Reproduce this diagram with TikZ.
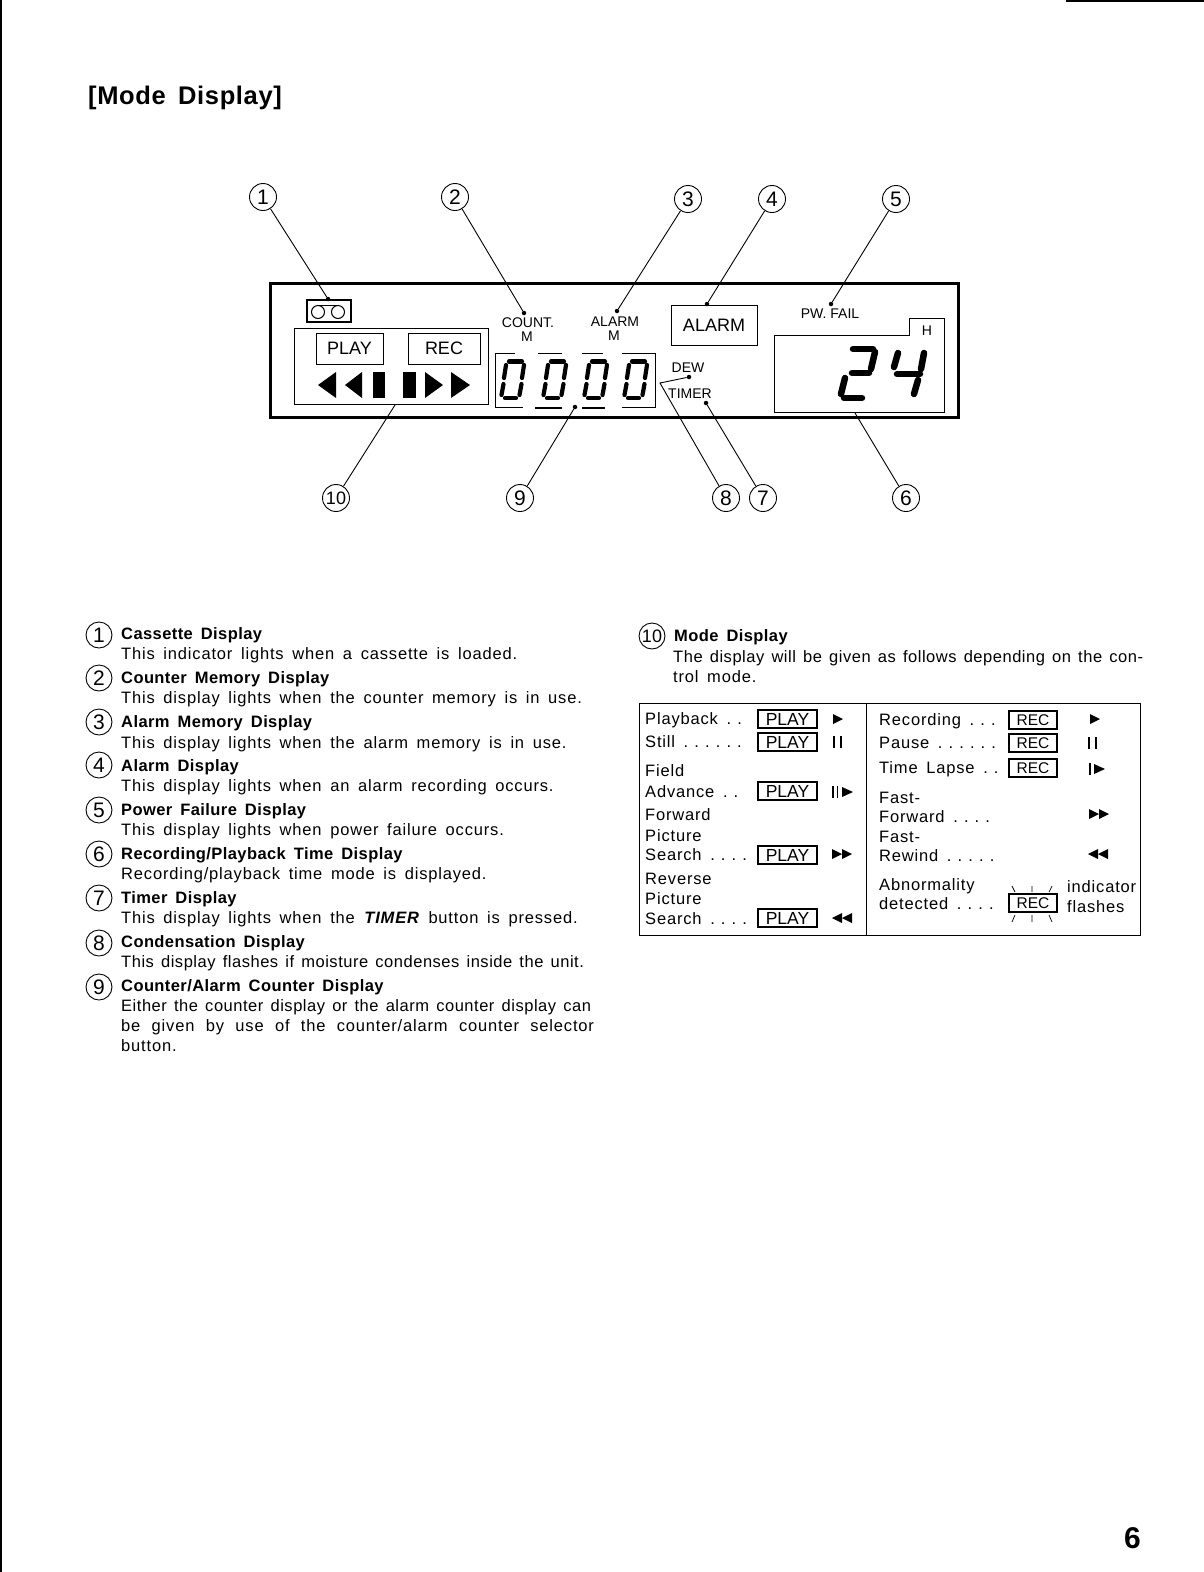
\documentclass[tikz,border=0pt]{standalone}
\usepackage{fontspec}
\setmainfont[LetterSpace=5,WordSpace=1.6]{Liberation Sans}
\newfontfamily\numf{Liberation Sans}
\newfontfamily\headf[LetterSpace=2.5,WordSpace=1.6]{Liberation Sans}
\newfontfamily\tightf[LetterSpace=3.2,WordSpace=1.4]{Liberation Sans}
\newfontfamily\widef[LetterSpace=5,WordSpace=2.1]{Liberation Sans}
\newfontfamily\dotf[LetterSpace=0,WordSpace=1]{Liberation Sans}
\newcounter{tc}
\newcommand{\dd}[1]{{\dotf #1}}
\tikzset{
 lab/.style={inner sep=0pt,anchor=base west,font=\fontsize{16.5}{18}\selectfont,text=black},
 labb/.style={lab,font=\headf\fontsize{16.5}{18}\selectfont\bfseries},
 tab/.style={lab},
 cnum/.style={circle,draw=black,line width=0.9pt,minimum size=27pt,inner sep=0pt,font=\numf\fontsize{21}{22}\selectfont},
 lnum/.style={cnum,minimum size=26pt},
 dot/.style={circle,fill=black,minimum size=4.5pt,inner sep=0pt},
 lead/.style={line width=0.9pt,draw=black},
 panelbox/.style={draw=black,line width=1pt},
 pan/.style={inner sep=0pt,font=\numf\fontsize{14}{16}\selectfont},
 panb/.style={inner sep=0pt,font=\numf\fontsize{18}{20}\selectfont},
 seg/.style={line width=6.5pt,line cap=round,draw=black},
 zseg/.style={line width=4.2pt,line cap=round,draw=black},
 tbox/.style={draw=black,line width=1.1pt,inner sep=0pt,font=\numf\fontsize{17.5}{18}\selectfont},
 rbox/.style={tbox,font=\numf\fontsize{15.5}{18}\selectfont},
}
\newcommand{\lbl}[4][lab]{\stepcounter{tc}\node[#1] (t\arabic{tc}) at (#2,#3+5) {#4};}
\newcommand{\rtri}[4]{\fill (#1,#2-#3) -- (#1+#4,#2) -- (#1,#2+#3) -- cycle;}
\newcommand{\ltri}[4]{\fill (#1,#2-#3) -- (#1-#4,#2) -- (#1,#2+#3) -- cycle;}
\newcommand{\vbar}[2]{\fill (#1,#2-6) rectangle (#1+1.8,#2+6);}
\newcommand{\zeroglyph}[1]{%
 \draw[zseg] (#1+10,361.5) -- (#1+23,361.5);
 \draw[zseg] (#1+6,398) -- (#1+17,398);
 \draw[zseg] (#1+7,365) -- (#1+5,378);
 \draw[zseg] (#1+4.5,384) -- (#1+2.5,395);
 \draw[zseg] (#1+25,365) -- (#1+23,378);
 \draw[zseg] (#1+22.5,384) -- (#1+20.5,395);}
\newcommand{\playb}[2]{\stepcounter{tc}\node[tbox,minimum width=59pt,minimum height=18pt] (t\arabic{tc}) at (787.5,#1) {#2};}
\newcommand{\recb}[2]{\stepcounter{tc}\node[rbox,minimum width=48pt,minimum height=18pt] (t\arabic{tc}) at (1033,#1) {#2};}
\begin{document}
\begin{tikzpicture}[x=1pt,y=-1pt]
\useasboundingbox (0,0) rectangle (1204,1572);
\fill[white] (0,0) rectangle (1204,1572);
% page edge marks
\fill (0,0) rectangle (1.5,1572);
\fill (1066,0) rectangle (1204,1.5);
% title and folio
\node[inner sep=0pt,anchor=base west,font=\headf\fontsize{25.5}{28}\selectfont\bfseries] (title) at (88,104) {[Mode Display]};
\node[inner sep=0pt,anchor=base west,font=\numf\fontsize{30}{32}\selectfont\bfseries] (folio) at (1124,1548) {6};
% panel
\draw[line width=3pt] (270,283) rectangle (958,417);
% cassette
\draw[line width=2pt] (307,300) rectangle (351,322);
\draw[line width=1pt] (318,312) circle (6.5) (338,312) circle (6.5);
\draw[line width=1pt] (318,305.5) -- (338,305.5);
% mode box
\draw[panelbox] (294,328) rectangle (488,404);
\node[panelbox,panb,minimum width=67pt,minimum height=31pt] (playpan) at (349.5,348.5) {PLAY};
\node[panelbox,panb,minimum width=72pt,minimum height=31pt] (recpan) at (444,348.5) {REC};
\ltri{336}{385}{13}{18}\ltri{362}{385}{13}{17}
\fill (373,372) rectangle (385,398);
\fill (403,372) rectangle (416,398);
\rtri{425}{385}{13}{18}\rtri{451}{385}{13}{19}
% labels in panel
\node[pan] (count) at (528,323) {COUNT.};
\node[pan] (countm) at (527,337) {M};
\node[pan] (alarmt) at (615,322) {ALARM};
\node[pan] (alarmm) at (614,336) {M};
\node[panelbox,panb,minimum width=86pt,minimum height=40pt] (alarmb) at (714,325) {ALARM};
\node[pan] (pw) at (830,314) {PW. FAIL};
\node[pan] (dew) at (688,368) {DEW};
\node[pan] (timer) at (690,394) {TIMER};
\node[pan] (h) at (927,331) {H};
% counter
\draw[line width=1pt] (515,353) -- (495,353) -- (495,407) -- (523,407);
\draw[line width=1pt] (538,353) -- (562,353) (582,353) -- (603,353) (622,353) -- (655,353) -- (655,407) -- (622,407);
\draw[line width=1.5pt] (535,408) -- (562,408) (582,408) -- (605,408);
\zeroglyph{499}\zeroglyph{541}\zeroglyph{582}\zeroglyph{622}
% time box
\draw[panelbox] (774,335) -- (909,335) -- (909,318) -- (944,318) -- (944,412) -- (774,412) -- cycle;
\draw[seg] (853,349) -- (873,349);
\draw[seg] (875,352) -- (871,369);
\draw[seg] (852,373) -- (869,373);
\draw[seg] (845,378) -- (841,394);
\draw[seg] (844,398) -- (862,398);
\draw[seg] (898,353) -- (894,367);
\draw[seg] (897,374) -- (920,374);
\draw[seg] (924,353) -- (921,369);
\draw[seg] (918,380) -- (914,394);
% callouts
\node[cnum] (c1) at (263,197) {1};
\node[cnum] (c2) at (455,197) {2};
\node[cnum] (c3) at (688,199) {3};
\node[cnum] (c4) at (772,199) {4};
\node[cnum] (c5) at (896,199) {5};
\node[cnum,font=\numf\fontsize{18}{20}\selectfont] (c10) at (336,498) {10};
\node[cnum] (c9) at (520,498) {9};
\node[cnum] (c8) at (726,498) {8};
\node[cnum] (c7) at (763,498) {7};
\node[cnum] (c6) at (906,498) {6};
\node[dot] (d1) at (328,299) {};
\node[dot] (d2) at (524,313) {};
\node[dot] (d3) at (617,311) {};
\node[dot] (d4) at (707,304) {};
\node[dot] (d5) at (831,304) {};
\coordinate (d6) at (855,413);
\node[dot] (d7) at (706,403) {};
\node[dot] (d8) at (689,377) {};
\coordinate (b8) at (660,383);
\node[dot] (d9) at (575,407) {};
\coordinate (d10) at (395,405);
\draw[lead] (c1) -- (d1);
\draw[lead] (c2) -- (d2);
\draw[lead] (c3) -- (d3);
\draw[lead] (c4) -- (d4);
\draw[lead] (c5) -- (d5);
\draw[lead] (c6) -- (d6);
\draw[lead] (c7) -- (d7);
\draw[lead] (c8) -- (b8) -- (d8);
\draw[lead] (c9) -- (d9);
\draw[lead] (c10) -- (d10);
% left list
\node[lnum] (l1) at (99,635) {1};
\node[lnum] (l2) at (99,678) {2};
\node[lnum] (l3) at (99,722) {3};
\node[lnum] (l4) at (99,765) {4};
\node[lnum] (l5) at (99,810) {5};
\node[lnum] (l6) at (99,854) {6};
\node[lnum] (l7) at (99,898) {7};
\node[lnum] (l8) at (99,943) {8};
\node[lnum] (l9) at (99,987) {9};
\lbl[labb]{121}{634}{Cassette Display}
\lbl{121}{654}{This indicator lights when a cassette is loaded.}
\lbl[labb]{121}{678}{Counter Memory Display}
\lbl{121}{698}{This display lights when the counter memory is in use.}
\lbl[labb]{121}{722}{Alarm Memory Display}
\lbl{121}{743}{This display lights when the alarm memory is in use.}
\lbl[labb]{121}{766}{Alarm Display}
\lbl{121}{786}{This display lights when an alarm recording occurs.}
\lbl[labb]{121}{810}{Power Failure Display}
\lbl{121}{830}{This display lights when power failure occurs.}
\lbl[labb]{121}{854}{Recording/Playback Time Display}
\lbl{121}{874}{Recording/playback time mode is displayed.}
\lbl[labb]{121}{898}{Timer Display}
\lbl{121}{918}{This display lights when the \textbf{\textit{TIMER}} button is pressed.}
\lbl[labb]{121}{942}{Condensation Display}
\lbl{121}{962}{\tightf This display flashes if moisture condenses inside the unit.}
\lbl[labb]{121}{986}{Counter/Alarm Counter Display}
\lbl{121}{1006}{\tightf Either the counter display or the alarm counter display can}
\lbl{121}{1026}{\widef be given by use of the counter/alarm counter selector}
\lbl{121}{1046}{button.}
% right
\node[lnum,font=\numf\fontsize{18}{20}\selectfont] (l10) at (652,636) {10};
\lbl[labb]{674}{636}{Mode Display}
\lbl{673}{657}{\tightf The display will be given as follows depending on the con-}
\lbl{673}{677}{trol mode.}
% table
\draw[line width=1pt] (639,703) rectangle (1140,935);
\draw[line width=1pt] (866,703) -- (866,935);
\lbl[tab]{645}{719}{Playback \dd{. .}}
\lbl[tab]{645}{742}{Still \dd{. . . . . .}}
\lbl[tab]{645}{771}{Field}
\lbl[tab]{645}{792}{Advance \dd{. .}}
\lbl[tab]{645}{815}{Forward}
\lbl[tab]{645}{836}{Picture}
\lbl[tab]{645}{855}{Search \dd{. . . .}}
\lbl[tab]{645}{879}{Reverse}
\lbl[tab]{645}{899}{Picture}
\lbl[tab]{645}{919}{Search \dd{. . . .}}
\playb{719}{PLAY}\playb{742}{PLAY}\playb{791}{PLAY}\playb{855}{PLAY}\playb{918}{PLAY}
\rtri{833}{719}{5}{10}
\vbar{833}{742}\vbar{840}{742}
\vbar{832}{792}\vbar{836.5}{792}\rtri{842}{792}{5}{11}
\rtri{832}{854}{5}{10}\rtri{842}{854}{5}{10}
\ltri{842}{918}{5}{10}\ltri{852}{918}{5}{10}
\lbl[tab]{879}{720}{Recording \dd{. . .}}
\lbl[tab]{879}{743}{Pause \dd{. . . . . .}}
\lbl[tab]{879}{768}{Time Lapse \dd{. .}}
\lbl[tab]{879}{798}{Fast-}
\lbl[tab]{879}{817}{Forward \dd{. . . .}}
\lbl[tab]{879}{837}{Fast-}
\lbl[tab]{879}{856}{Rewind \dd{. . . . .}}
\lbl[tab]{879}{885}{Abnormality}
\lbl[tab]{879}{904}{detected \dd{. . . .}}
\recb{720}{REC}\recb{743}{REC}\recb{768}{REC}\recb{903}{REC}
\draw[line width=0.7pt] (1012,886) -- (1015,892) (1032,886) -- (1032,892) (1052,886) -- (1049,892);
\draw[line width=0.7pt] (1012,922) -- (1015,915) (1032,922) -- (1032,915) (1052,922) -- (1049,915);
\lbl[tab]{1067}{887}{indicator}
\lbl[tab]{1067}{907}{flashes}
\rtri{1090}{719}{5}{10}
\vbar{1088}{743}\vbar{1095}{743}
\vbar{1089}{769}\rtri{1094}{769}{5}{11}
\rtri{1089}{814}{5}{10}\rtri{1099}{814}{5}{10}
\ltri{1098}{854}{5}{10}\ltri{1108}{854}{5}{10}
\end{tikzpicture}
\end{document}
